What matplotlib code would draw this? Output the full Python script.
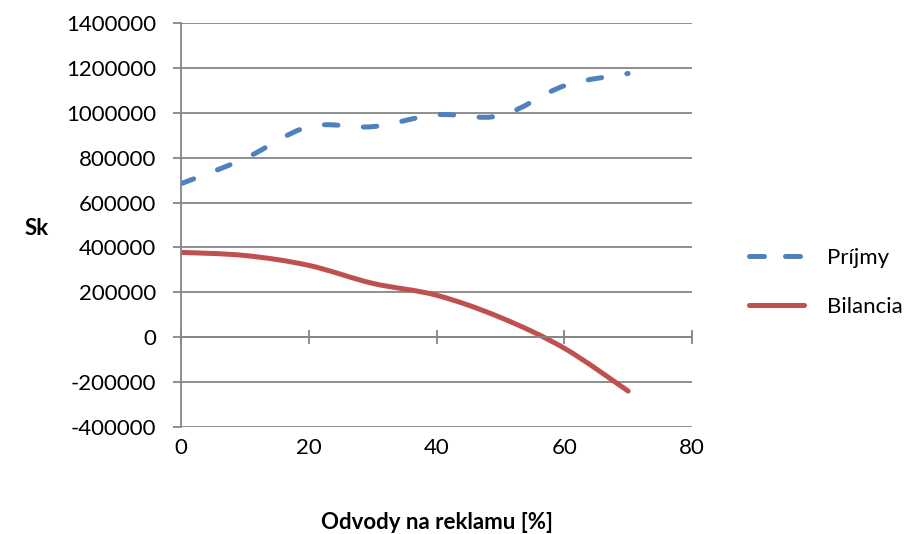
import matplotlib as mpl
mpl.use('Agg')
import matplotlib.pyplot as plt
from matplotlib.path import Path
from matplotlib.patches import PathPatch
from matplotlib.lines import Line2D
import numpy as np

#Data:
odvody = [0, 10, 20, 30, 40, 50, 60, 70]
prijmy = [684000, 796000, 938000, 938000, 991000, 987000, 1120000, 1175000]
bilancia = [378000, 364000, 320000, 240000, 187000, 88000, -49000, -240000]

xTicks = [0, 20, 40, 60, 80]
yTicks = [-400000, -200000, 0, 200000, 400000, 600000, 800000, 1000000, 1200000, 1400000]

blue = '#4F81BD'
red = '#C0504D'
gray = '#868686'
fs = 16

plt.rcParams['font.family'] = ['Lato', 'DejaVu Sans']


def smoothPath(xs, ys):
    '''Excel-like smoothed line: cubic bezier through every data point.'''
    p = np.column_stack([xs, ys]).astype(float)
    ext = np.vstack([p[0], p, p[-1]])
    verts = [p[0]]
    codes = [Path.MOVETO]
    for i in range(len(p) - 1):
        c1 = ext[i + 1] + (ext[i + 2] - ext[i]) / 6.0
        c2 = ext[i + 2] - (ext[i + 3] - ext[i + 1]) / 6.0
        verts += [c1, c2, ext[i + 2]]
        codes += [Path.CURVE4] * 3
    return Path(verts, codes)


fig = plt.figure(figsize=(9.11, 5.34), dpi=100)
ax = fig.add_axes([0.1987, 0.2004, 0.5609, 0.7566])

ax.set_xlim(0, 80)
ax.set_ylim(-400000, 1400000)
ax.set_yticks(yTicks)
ax.set_yticklabels([str(v) for v in yTicks], fontsize=fs)
ax.yaxis.grid(True, color=gray, linewidth=1.3)
ax.set_axisbelow(True)

#x axis crosses at zero, like Excel does it
for s in ['top', 'right']:
    ax.spines[s].set_visible(False)
ax.spines['bottom'].set_position(('data', 0))
ax.spines['bottom'].set_color(gray)
ax.spines['bottom'].set_linewidth(1.3)
ax.spines['left'].set_color(gray)
ax.spines['left'].set_linewidth(1.3)
ax.set_xticks(xTicks)
ax.tick_params(axis='x', direction='inout', length=10, width=1.3, color=gray,
               labelbottom=False)
ax.tick_params(axis='y', direction='out', length=6, width=1.3, color=gray, pad=12)

#tick labels below the plot area
sec = ax.secondary_xaxis(0)
sec.set_xticks(xTicks)
sec.set_xticklabels([str(v) for v in xTicks], fontsize=fs)
sec.tick_params(length=0, pad=8)
sec.spines['bottom'].set_visible(False)

ax.add_patch(PathPatch(smoothPath(odvody, prijmy), fill=False, edgecolor=blue,
                       linewidth=3.6, linestyle=(0, (2.7, 5.1)), capstyle='round'))
ax.add_patch(PathPatch(smoothPath(odvody, bilancia), fill=False, edgecolor=red,
                       linewidth=3.6, capstyle='round'))

sec.set_xlabel('Odvody na reklamu [%]', fontsize=fs, fontweight='bold', labelpad=39)
fig.text(0.027, 0.573, 'Sk', fontsize=fs, fontweight='bold', va='center')

legendProxies = [Line2D([0], [0], color=blue, linewidth=3.6, linestyle=(0, (3.0, 4.2)),
                        dash_capstyle='round'),
                 Line2D([0], [0], color=red, linewidth=3.6, solid_capstyle='round')]
fig.legend(legendProxies, ['Príjmy', 'Bilancia'], loc='center left',
           bbox_to_anchor=(0.80, 0.471), frameon=False, fontsize=fs,
           handlelength=2.5, handletextpad=1.0, labelspacing=1.3)

plt.savefig('out.png', dpi=100)
